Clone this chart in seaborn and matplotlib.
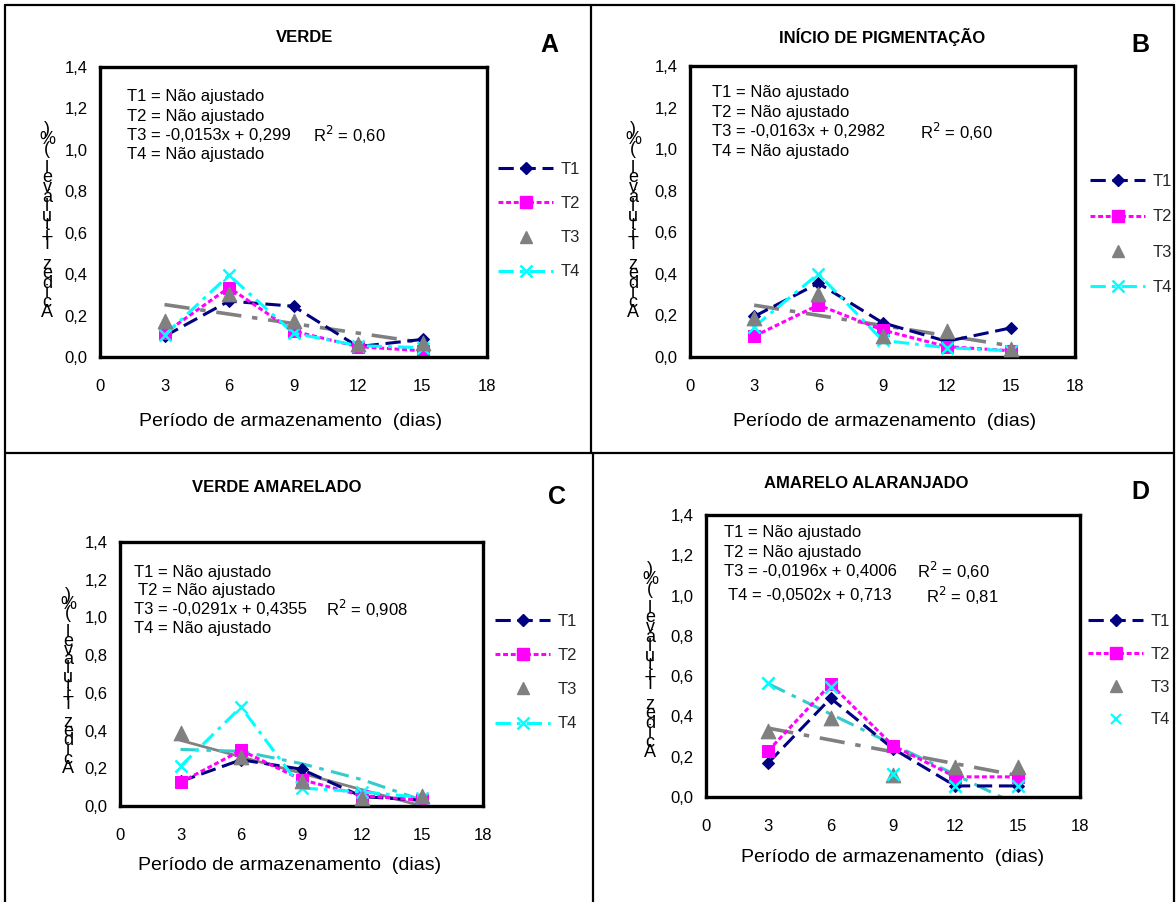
import matplotlib
matplotlib.use("Agg")
import matplotlib.pyplot as plt
from matplotlib.lines import Line2D
import numpy as np
import pandas as pd
import seaborn as sns

# Storage days
days = [3, 6, 9, 12, 15]

# Panel A - VERDE
a_t1 = [0.10, 0.27, 0.245, 0.05, 0.085]
a_t2 = [0.115, 0.335, 0.125, 0.05, 0.03]
a_t3 = [0.175, 0.305, 0.175, 0.065, 0.07]
a_t4 = [0.105, 0.395, 0.115, 0.055, 0.045]

# Panel B - INÍCIO DE PIGMENTAÇÃO
b_t1 = [0.195, 0.355, 0.165, 0.075, 0.14]
b_t2 = [0.10, 0.25, 0.13, 0.05, 0.03]
b_t3 = [0.19, 0.305, 0.10, 0.125, 0.04]
b_t4 = [0.145, 0.40, 0.08, 0.045, 0.03]

# Panel C - VERDE AMARELADO
c_t1 = [0.13, 0.245, 0.195, 0.05, 0.03]
c_t2 = [0.125, 0.295, 0.14, 0.055, 0.03]
c_t3 = [0.385, 0.26, 0.13, 0.045, 0.055]
c_t4 = [0.21, 0.525, 0.095, 0.075, 0.045]
c_t4_trend = [0.30, 0.29, 0.225, 0.14, 0.03]

# Panel D - AMARELO ALARANJADO
d_t1 = [0.17, 0.49, 0.24, 0.055, 0.055]
d_t2 = [0.23, 0.56, 0.255, 0.10, 0.10]
d_t3 = [0.33, 0.39, 0.11, 0.15, 0.15]
d_t4 = [0.565, 0.545, 0.115, 0.055, 0.055]

# Fitted linear trends (slope, intercept)
a_t3_fit = (-0.0153, 0.299)
b_t3_fit = (-0.0163, 0.2982)
c_t3_fit = (-0.0291, 0.4355)
d_t3_fit = (-0.0196, 0.4006)
d_t4_fit = (-0.0502, 0.713)

titles = ["VERDE", "INÍCIO DE PIGMENTAÇÃO", "VERDE AMARELADO", "AMARELO ALARANJADO"]
letters = ["A", "B", "C", "D"]
series_names = ["T1", "T2", "T3", "T4"]
x_ticks = [0, 3, 6, 9, 12, 15, 18]
y_ticks = [0.0, 0.2, 0.4, 0.6, 0.8, 1.0, 1.2, 1.4]
x_label = "Período de armazenamento  (dias)"
y_label = "Acidez Titulável (%)"

sns.set_theme(style="white")
plt.rcParams["font.family"] = ["Liberation Sans", "DejaVu Sans"]

W, H = 1176, 902
fig = plt.figure(figsize=(W / 100, H / 100), dpi=100)


def rect(left, top, right, bottom):
    return [left / W, 1 - bottom / H, (right - left) / W, (bottom - top) / H]


def fx(px):
    return px / W


def fy(py):
    return 1 - py / H


NAVY = "#000080"
MAGENTA = "#FF00FF"
GRAY = "#808080"
CYAN = "#00FFFF"
TEAL = "#33CCCC"

st_t1 = dict(color=NAVY, linestyle=(0, (5, 2.2)), linewidth=2.2, marker="D",
             markersize=6.5, markerfacecolor=NAVY, markeredgecolor=NAVY)
st_t2 = dict(color=MAGENTA, linestyle=(0, (1.6, 0.9)), linewidth=2.2, marker="s",
             markersize=9, markerfacecolor=MAGENTA, markeredgecolor=MAGENTA)
st_t4 = dict(color=CYAN, linestyle=(0, (5, 2, 1.2, 2)), linewidth=2.2, marker="x",
             markersize=9, markeredgewidth=1.8, markeredgecolor=CYAN)
st_trend = dict(color=GRAY, linestyle=(0, (7, 3, 1.5, 3)), linewidth=2.6)
st_teal = dict(color=TEAL, linestyle=(0, (6, 2.5, 1.5, 2.5)), linewidth=2.2)


def frame_axes(ax):
    ax.set_xlim(0, 18)
    ax.set_ylim(0, 1.4)
    ax.set_xticks(x_ticks)
    ax.set_yticks(y_ticks)
    ax.set_xticklabels([str(t) for t in x_ticks], fontsize=12)
    ax.set_yticklabels([f"{t:.1f}".replace(".", ",") for t in y_ticks], fontsize=12)
    for s in ax.spines.values():
        s.set_visible(True)
        s.set_color("black")
        s.set_linewidth(2.4)
    ax.tick_params(axis="both", direction="out", length=5, width=2.2,
                   color="black", labelcolor="black", pad=4)
    ax.tick_params(axis="x", pad=11)
    ax.set_xlabel("")
    ax.set_ylabel("")
    ax.set_facecolor("white")
    ax.grid(False)


def series_line(ax, y, style):
    df = pd.DataFrame({"x": days, "y": y})
    sns.lineplot(data=df, x="x", y="y", ax=ax, legend=False, **style)


def series_points(ax, y, marker, color, size, **kw):
    df = pd.DataFrame({"x": days, "y": y})
    sns.scatterplot(data=df, x="x", y="y", ax=ax, marker=marker, color=color,
                    s=size, legend=False, **kw)


def trend(ax, fit, style, x_end=15):
    xs = np.array([3, x_end], dtype=float)
    df = pd.DataFrame({"x": xs, "y": fit[0] * xs + fit[1]})
    sns.lineplot(data=df, x="x", y="y", ax=ax, legend=False, **style)


def add_legend(ax, handles, left, top, spacing):
    ax.legend(handles, series_names, loc="upper left",
              bbox_to_anchor=(fx(left), fy(top)), bbox_transform=fig.transFigure,
              frameon=False, fontsize=12, handlelength=3.3, handletextpad=0.45,
              labelspacing=spacing, borderaxespad=0, borderpad=0)


def stacked_ylabel(x, y, spacing):
    # Upright characters stacked from bottom to top
    fig.text(fx(x), fy(y), "\n".join(y_label[::-1]), ha="center", va="center",
             fontsize=13, linespacing=spacing, color="black")


h_t1 = Line2D([], [], **st_t1)
h_t2 = Line2D([], [], **st_t2)
h_t3 = Line2D([], [], linestyle="none", marker="^", markersize=8,
              color=GRAY, markeredgecolor=GRAY)
h_t4 = Line2D([], [], **st_t4)
h_t4_pts = Line2D([], [], linestyle="none", marker="x", markersize=7,
                  markeredgewidth=1.5, color=CYAN)

ann = dict(fontsize=12, color="black", ha="left", va="center")

# ---------------- Panel A ----------------
axA = fig.add_axes(rect(100, 67, 487, 357))
trend(axA, a_t3_fit, st_trend)
series_points(axA, a_t3, "^", GRAY, 110, edgecolor=GRAY, zorder=3)
series_line(axA, a_t1, st_t1)
series_line(axA, a_t2, st_t2)
series_line(axA, a_t4, st_t4)
frame_axes(axA)
fig.text(fx(127), fy(97), "T1 = Não ajustado", **ann)
fig.text(fx(127), fy(116), "T2 = Não ajustado", **ann)
fig.text(fx(127), fy(135), "T3 = -0,0153x + 0,299", **ann)
fig.text(fx(313), fy(135), "R$^2$ = 0,60", **ann)
fig.text(fx(127), fy(154), "T4 = Não ajustado", **ann)
add_legend(axA, [h_t1, h_t2, h_t3, h_t4], 498, 162, 1.15)

# ---------------- Panel B ----------------
axB = fig.add_axes(rect(690, 66, 1075, 357))
trend(axB, b_t3_fit, st_trend)
series_points(axB, b_t3, "^", GRAY, 110, edgecolor=GRAY, zorder=3)
series_line(axB, b_t1, st_t1)
series_line(axB, b_t2, st_t2)
series_line(axB, b_t4, st_t4)
frame_axes(axB)
fig.text(fx(712), fy(92), "T1 = Não ajustado", **ann)
fig.text(fx(712), fy(112), "T2 = Não ajustado", **ann)
fig.text(fx(712), fy(132), "T3 = -0,0163x + 0,2982", **ann)
fig.text(fx(920), fy(132), "R$^2$ = 0,60", **ann)
fig.text(fx(712), fy(151), "T4 = Não ajustado", **ann)
add_legend(axB, [h_t1, h_t2, h_t3, h_t4], 1090, 174, 1.22)

# ---------------- Panel C ----------------
axC = fig.add_axes(rect(120, 542, 483, 806))
trend(axC, c_t3_fit, dict(color=GRAY, linestyle="-", linewidth=2.0))
series_line(axC, c_t4_trend, st_teal)
series_points(axC, c_t3, "^", GRAY, 110, edgecolor=GRAY, zorder=3)
series_line(axC, c_t1, st_t1)
series_line(axC, c_t2, st_t2)
series_line(axC, c_t4, st_t4)
frame_axes(axC)
fig.text(fx(134), fy(572), "T1 = Não ajustado", **ann)
fig.text(fx(138), fy(590), "T2 = Não ajustado", **ann)
fig.text(fx(134), fy(609), "T3 = -0,0291x + 0,4355", **ann)
fig.text(fx(326), fy(609), "R$^2$ = 0,908", **ann)
fig.text(fx(134), fy(628), "T4 = Não ajustado", **ann)
add_legend(axC, [h_t1, h_t2, h_t3, h_t4], 495, 614, 1.15)

# ---------------- Panel D ----------------
axD = fig.add_axes(rect(706, 515, 1080, 797))
trend(axD, d_t3_fit, st_trend)
trend(axD, d_t4_fit, st_teal)
series_points(axD, d_t3, "^", GRAY, 110, edgecolor=GRAY, zorder=3)
series_line(axD, d_t1, st_t1)
series_line(axD, d_t2, st_t2)
series_points(axD, d_t4, "x", CYAN, 80, zorder=4, linewidth=1.8)
frame_axes(axD)
fig.text(fx(724), fy(533), "T1 = Não ajustado", **ann)
fig.text(fx(724), fy(552), "T2 = Não ajustado", **ann)
fig.text(fx(724), fy(571), "T3 = -0,0196x + 0,4006", **ann)
fig.text(fx(917), fy(571), "R$^2$ = 0,60", **ann)
fig.text(fx(728), fy(596), "T4 = -0,0502x + 0,713", **ann)
fig.text(fx(926), fy(596), "R$^2$ = 0,81", **ann)
add_legend(axD, [h_t1, h_t2, h_t3, h_t4_pts], 1088, 614, 1.07)

# Titles and panel letters
title_kw = dict(fontsize=12, fontweight="bold", ha="center", va="center", color="black")
letter_kw = dict(fontsize=18, fontweight="bold", ha="center", va="center", color="black")
fig.text(fx(305), fy(37), titles[0], **title_kw)
fig.text(fx(882), fy(37), titles[1], **title_kw)
fig.text(fx(277), fy(488), titles[2], **title_kw)
fig.text(fx(866), fy(483), titles[3], **title_kw)
fig.text(fx(549), fy(45), letters[0], **letter_kw)
fig.text(fx(1140), fy(45), letters[1], **letter_kw)
fig.text(fx(557), fy(497), letters[2], **letter_kw)
fig.text(fx(1140), fy(492), letters[3], **letter_kw)

# Axis titles
xl_kw = dict(fontsize=14, ha="center", va="center", color="black")
fig.text(fx(291), fy(421), x_label, **xl_kw)
fig.text(fx(885), fy(421), x_label, **xl_kw)
fig.text(fx(290), fy(866), x_label, **xl_kw)
fig.text(fx(893), fy(858), x_label, **xl_kw)
stacked_ylabel(47, 221, 0.43)
stacked_ylabel(633, 221, 0.43)
stacked_ylabel(68, 682, 0.39)
stacked_ylabel(650, 661, 0.43)

# Panel borders
bkw = dict(color="black", linewidth=1.6, transform=fig.transFigure)
fig.add_artist(Line2D([fx(5), fx(1174)], [fy(5), fy(5)], **bkw))
fig.add_artist(Line2D([fx(5), fx(5)], [fy(5), fy(902)], **bkw))
fig.add_artist(Line2D([fx(1174), fx(1174)], [fy(5), fy(902)], **bkw))
fig.add_artist(Line2D([fx(5), fx(1174)], [fy(453), fy(453)], **bkw))
fig.add_artist(Line2D([fx(591), fx(591)], [fy(5), fy(453)], **bkw))
fig.add_artist(Line2D([fx(593), fx(593)], [fy(453), fy(902)], **bkw))

fig.savefig("out.png", dpi=100, facecolor="white")
